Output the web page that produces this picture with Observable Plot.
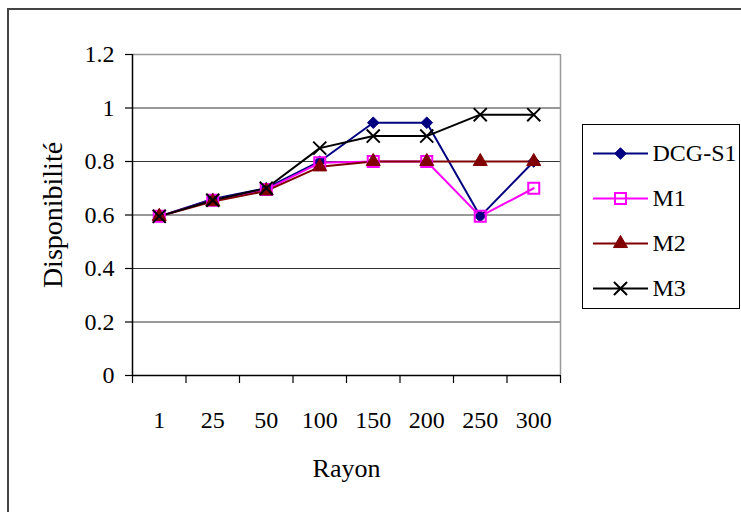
<!DOCTYPE html>
<html><head><meta charset="utf-8">
<script src="https://cdn.jsdelivr.net/npm/d3@7"></script>
<script src="https://cdn.jsdelivr.net/npm/@observablehq/plot@0.6"></script>
<style>
body{margin:0;background:#fff;}
#wrap{position:relative;width:741px;height:512px;overflow:hidden;background:#fff;}
#wrap svg, #wrap svg text{font-family:'Liberation Serif','Times New Roman',serif !important;}
#chart{position:absolute;left:0;top:0;}
#frame{position:absolute;left:7px;top:8px;width:800px;height:600px;border:2px solid #444;box-sizing:border-box;pointer-events:none}
#legend{position:absolute;left:582px;top:124px;width:158px;height:185px;border:1px solid #000;box-sizing:border-box;background:#fff;}
#legend svg{display:block;}
</style></head><body>
<div id="wrap"><div id="chart"></div><div id="frame"></div><div id="legend"></div></div>
<script>
const categories = ["1","25","50","100","150","200","250","300"];
const seriesNames = ["DCG-S1","M1","M2","M3"];
const dcgS1 = [0.595,0.66,0.70,0.80,0.945,0.945,0.595,0.80];
const m1 = [0.595,0.655,0.695,0.795,0.80,0.80,0.595,0.70];
const m2 = [0.595,0.65,0.69,0.78,0.80,0.80,0.80,0.80];
const m3 = [0.595,0.655,0.70,0.85,0.895,0.895,0.975,0.975];
const yTicks = [0,0.2,0.4,0.6,0.8,1,1.2];
const xTitle = "Rayon";
const yTitle = "Disponibilité";

const seriesValues = [dcgS1, m1, m2, m3];
const colors = ["#000080","#FF00FF","#800000","#000000"];
const symbols = ["diamond2","square2","triangle","times"];
const filled = [true,false,true,false];
const radii = [5.2,7,5.2,6];

const rows = seriesNames.map((s, k) => categories.map((c, i) => ({series: s, cat: c, x: i + 0.5, value: seriesValues[k][i]})));

const font = "'Liberation Serif', 'Times New Roman', serif";

const seriesMarks = [];
seriesNames.forEach((s, k) => {
  seriesMarks.push(Plot.line(rows[k], {x: "x", y: "value", stroke: colors[k], strokeWidth: 2}));
});
seriesNames.forEach((s, k) => {
  seriesMarks.push(Plot.dot(rows[k], {x: "x", y: "value", symbol: symbols[k], r: radii[k],
    fill: filled[k] ? colors[k] : "none", stroke: colors[k], strokeWidth: filled[k] ? 1 : 2}));
});

const chart = Plot.plot({
  width: 741, height: 512,
  marginLeft: 132, marginRight: 181, marginTop: 54, marginBottom: 137,
  style: {fontFamily: font, fontSize: "24px", background: "transparent", color: "#000", overflow: "visible"},
  x: {type: "linear", domain: [0, categories.length]},
  y: {domain: [0, 1.2]},
  marks: [
    Plot.ruleY(yTicks.filter(v => v > 0 && v < 1.2), {stroke: "#333", strokeWidth: 1}),
    Plot.ruleY([1.2], {stroke: "#999", strokeWidth: 1.5}),
    Plot.ruleX([categories.length], {stroke: "#999", strokeWidth: 1.5}),
    Plot.ruleX([0], {stroke: "#000", strokeWidth: 1.5}),
    Plot.ruleY([0], {stroke: "#000", strokeWidth: 1.5}),
    Plot.axisY({ticks: yTicks, tickSize: 7, tickPadding: 11, tickFormat: d => String(+d.toFixed(1)), label: null, fontSize: 24, strokeWidth: 1.2}),
    Plot.axisX({ticks: d3.range(categories.length + 1), tickSize: 8, tickFormat: () => "", label: null, strokeWidth: 1.2}),
    Plot.axisX({ticks: categories.map((c, i) => i + 0.5), tickSize: 0, tickPadding: 35, tickFormat: v => categories[Math.floor(v)], label: null, fontSize: 24}),
    Plot.text([xTitle], {frameAnchor: "bottom", textAnchor: "middle", lineAnchor: "bottom", dy: 101, fontSize: 26, text: d => d}),
    Plot.text([yTitle], {frameAnchor: "left", textAnchor: "middle", lineAnchor: "middle", dx: -79, rotate: -90, fontSize: 28, text: d => d}),
    ...seriesMarks
  ]
});
document.getElementById("chart").appendChild(chart);

const legendMarks = [];
seriesNames.forEach((s, k) => {
  legendMarks.push(Plot.ruleY([s], {y: d => d, x1: 10, x2: 65, stroke: colors[k], strokeWidth: 2}));
  legendMarks.push(Plot.dot([s], {x: () => 37, y: d => d, symbol: symbols[k], r: radii[k],
    fill: filled[k] ? colors[k] : "none", stroke: colors[k], strokeWidth: filled[k] ? 1 : 2}));
  legendMarks.push(Plot.text([s], {x: () => 69, y: d => d, text: d => d, textAnchor: "start", fontSize: 24}));
});
const legend = Plot.plot({
  width: 156, height: 183,
  margin: 0,
  style: {fontFamily: font, fontSize: "24px", background: "transparent", color: "#000", overflow: "visible"},
  x: {type: "linear", domain: [0, 156], range: [0, 156], axis: null},
  y: {type: "point", domain: seriesNames, range: [27, 163], padding: 0, axis: null},
  marks: legendMarks
});
document.getElementById("legend").appendChild(legend);
</script>
</body></html>
